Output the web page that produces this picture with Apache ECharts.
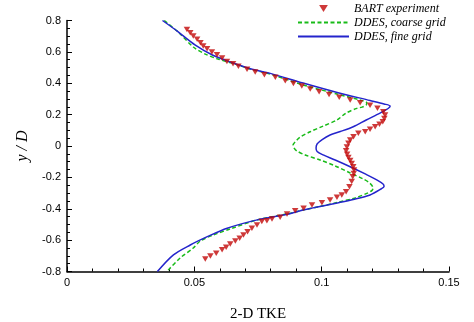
<!DOCTYPE html>
<html>
<head>
<meta charset="utf-8">
<script src="https://cdn.jsdelivr.net/npm/echarts@6/dist/echarts.min.js"></script>
<style>
  html, body { margin: 0; padding: 0; background: #fff; }
  #chart { width: 474px; height: 322px; }
</style>
</head>
<body>
<div id="chart"></div>
<script>
// Axis ranges and tick labels
const xTicks = [0, 0.05, 0.1, 0.15];
const yTicks = [-0.8, -0.6, -0.4, -0.2, 0, 0.2, 0.4, 0.6, 0.8];

// BART experiment (2-D TKE vs y/D)
const bartTke = [
  0.0471, 0.0484, 0.0496, 0.0511, 0.0524, 0.0535, 0.0550, 0.0569, 0.0589, 0.0609,
  0.0628, 0.0652, 0.0673, 0.0707, 0.0739, 0.0775, 0.0818, 0.0857, 0.0889, 0.0922,
  0.0955, 0.0990, 0.1029, 0.1069, 0.1112, 0.1151, 0.1190, 0.1219, 0.1242, 0.1249,
  0.1246, 0.1240, 0.1227, 0.1210, 0.1190, 0.1171, 0.1144, 0.1125, 0.1112, 0.1105,
  0.1099, 0.1096, 0.1100, 0.1105, 0.1112, 0.1118, 0.1124, 0.1127, 0.1126, 0.1122,
  0.1118, 0.1109, 0.1096, 0.1079, 0.1060, 0.1033, 0.1001, 0.0962, 0.0929, 0.0896,
  0.0864, 0.0837, 0.0805, 0.0785, 0.0765, 0.0746, 0.0726, 0.0709, 0.0693, 0.0678,
  0.0661, 0.0641, 0.0625, 0.0609, 0.0586, 0.0563, 0.0543
];
const bartY = [
  0.743, 0.722, 0.701, 0.680, 0.658, 0.637, 0.620, 0.599, 0.582, 0.561,
  0.539, 0.524, 0.508, 0.489, 0.471, 0.454, 0.438, 0.416, 0.399, 0.382,
  0.363, 0.346, 0.329, 0.310, 0.293, 0.276, 0.259, 0.240, 0.218, 0.197,
  0.176, 0.155, 0.138, 0.123, 0.106, 0.091, 0.081, 0.059, 0.038, 0.017,
  -0.006, -0.030, -0.052, -0.073, -0.093, -0.112, -0.132, -0.153, -0.175, -0.196,
  -0.227, -0.259, -0.291, -0.312, -0.327, -0.344, -0.361, -0.376, -0.397, -0.412,
  -0.433, -0.454, -0.466, -0.476, -0.482, -0.503, -0.524, -0.546, -0.567, -0.588,
  -0.605, -0.624, -0.645, -0.662, -0.683, -0.701, -0.720
];

// DDES, coarse grid
const coarseTke = [
  0.0382, 0.0437, 0.0496, 0.0543, 0.0590, 0.0661, 0.0720, 0.0798, 0.0927, 0.1061,
  0.1151, 0.1177, 0.1175, 0.1159, 0.1138, 0.1096, 0.1060, 0.1006, 0.0955, 0.0916,
  0.0903, 0.0888, 0.0892, 0.0903, 0.0935, 0.0994, 0.1053, 0.1112, 0.1163, 0.1190,
  0.1202, 0.1198, 0.1182, 0.1131, 0.1061, 0.0994, 0.0927, 0.0865, 0.0747, 0.0641,
  0.0575, 0.0524, 0.0496, 0.0445, 0.0398, 0.0394
];
const coarseY = [
  0.800, 0.726, 0.631, 0.586, 0.556, 0.522, 0.490, 0.459, 0.389, 0.331,
  0.293, 0.276, 0.261, 0.248, 0.240, 0.210, 0.166, 0.127, 0.091, 0.057,
  0.038, 0.006, -0.013, -0.032, -0.057, -0.089, -0.127, -0.172, -0.210, -0.238,
  -0.268, -0.283, -0.299, -0.331, -0.360, -0.385, -0.408, -0.433, -0.471, -0.529,
  -0.567, -0.605, -0.650, -0.713, -0.790, -0.800
];

// DDES, fine grid
const fineTke = [
  0.0375, 0.0433, 0.0504, 0.0571, 0.0641, 0.0720, 0.0798, 0.0927, 0.1061, 0.1190,
  0.1245, 0.1269, 0.1261, 0.1229, 0.1175, 0.1124, 0.1073, 0.1033, 0.1002, 0.0982,
  0.0978, 0.0982, 0.1006, 0.1053, 0.1112, 0.1171, 0.1218, 0.1241, 0.1245, 0.1233,
  0.1190, 0.1124, 0.1061, 0.0994, 0.0927, 0.0865, 0.0747, 0.0629, 0.0551, 0.0484,
  0.0418, 0.0355
];
const fineY = [
  0.800, 0.732, 0.643, 0.580, 0.535, 0.492, 0.463, 0.401, 0.341, 0.290,
  0.268, 0.255, 0.239, 0.210, 0.166, 0.123, 0.092, 0.070, 0.041, 0.013,
  -0.013, -0.035, -0.057, -0.089, -0.132, -0.178, -0.217, -0.242, -0.258, -0.274,
  -0.312, -0.341, -0.363, -0.385, -0.408, -0.435, -0.471, -0.524, -0.578, -0.631,
  -0.694, -0.800
];

const zip = (xs, ys) => xs.map((x, i) => [x, ys[i]]);

const downTriangle = 'path://M0,0 L10,0 L5,8 Z';
const serifFont = '"Liberation Serif", "Times New Roman", serif';
const sansFont = '"Liberation Sans", Arial, sans-serif';

const chart = echarts.init(document.getElementById('chart'), null, { renderer: 'canvas' });

const axisCommon = {
  type: 'value',
  axisLine: { show: true, onZero: false, lineStyle: { color: '#000', width: 1.5 } },
  axisTick: { show: true, inside: true, length: 5, lineStyle: { color: '#000', width: 1 } },
  minorTick: { show: true, length: 3, lineStyle: { color: '#000', width: 1 } },
  splitLine: { show: false },
  axisLabel: { color: '#000', fontFamily: sansFont, fontSize: 11, margin: 6 },
  nameTextStyle: { color: '#000', fontFamily: serifFont, fontSize: 15 }
};

chart.setOption({
  animation: false,
  backgroundColor: '#fff',
  grid: {
    left: 67, right: 25, top: 20.5, bottom: 50.5,
    containLabel: false, outerBoundsMode: 'none'
  },
  legend: {
    orient: 'vertical',
    left: 297,
    top: 1.5,
    padding: 0,
    itemWidth: 51,
    itemHeight: 7,
    itemGap: 0,
    textStyle: {
      color: '#000', fontFamily: serifFont, fontStyle: 'italic', fontSize: 12,
      lineHeight: 14
    },
    data: [
      { name: 'BART experiment', icon: downTriangle },
      { name: 'DDES, coarse grid', itemStyle: { opacity: 0 } },
      { name: 'DDES, fine grid', itemStyle: { opacity: 0 } }
    ]
  },
  xAxis: Object.assign({}, axisCommon, {
    min: xTicks[0], max: xTicks[xTicks.length - 1], interval: 0.05,
    minorTick: Object.assign({}, axisCommon.minorTick, { splitNumber: 5 }),
    name: '2-D TKE', nameLocation: 'middle', nameGap: 35,
    axisLabel: Object.assign({}, axisCommon.axisLabel, {
      formatter: v => String(xTicks.find(t => Math.abs(t - v) < 1e-9) ?? '')
    })
  }),
  yAxis: Object.assign({}, axisCommon, {
    min: yTicks[0], max: yTicks[yTicks.length - 1], interval: 0.2,
    minorTick: Object.assign({}, axisCommon.minorTick, { splitNumber: 4 }),
    name: 'y / D', nameLocation: 'middle', nameRotate: 90, nameGap: 36,
    nameTextStyle: Object.assign({}, axisCommon.nameTextStyle, { fontStyle: 'italic', fontSize: 16 }),
    axisLabel: Object.assign({}, axisCommon.axisLabel, {
      formatter: v => String(yTicks.find(t => Math.abs(t - v) < 1e-9) ?? '')
    })
  }),
  series: [
    {
      name: 'BART experiment',
      type: 'scatter',
      symbol: downTriangle,
      symbolSize: [6.5, 5.5],
      itemStyle: { color: '#c20808' },
      data: zip(bartTke, bartY),
      z: 3
    },
    {
      name: 'DDES, coarse grid',
      type: 'line',
      symbol: 'none',
      smooth: 0.3,
      lineStyle: { color: '#18bb18', width: 1.5, type: [4, 2.5] },
      itemStyle: { color: '#18bb18' },
      data: zip(coarseTke, coarseY),
      z: 2
    },
    {
      name: 'DDES, fine grid',
      type: 'line',
      symbol: 'none',
      smooth: 0.3,
      lineStyle: { color: '#2424cc', width: 1.5 },
      itemStyle: { color: '#2424cc' },
      data: zip(fineTke, fineY),
      z: 2
    }
  ]
});
</script>
</body>
</html>
